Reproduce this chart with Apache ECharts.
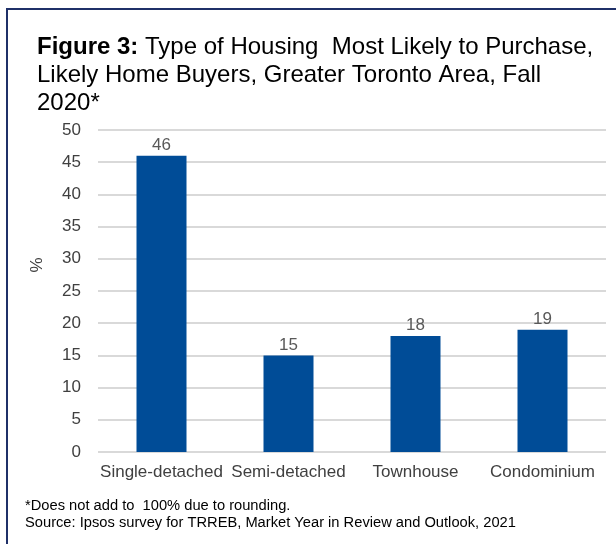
<!DOCTYPE html>
<html>
<head>
<meta charset="utf-8">
<script src="https://cdn.jsdelivr.net/npm/echarts@6/dist/echarts.min.js"></script>
<style>
html,body{margin:0;padding:0;background:#fff;}
#c{width:616px;height:544px;}
</style>
</head>
<body>
<div id="c"></div>
<script>
const categories = ['Single-detached', 'Semi-detached', 'Townhouse', 'Condominium'];
const values = [46, 15, 18, 19];
const yTicks = { min: 0, max: 50, interval: 5 };
const titleBold = 'Figure 3:';
const titleRest = ' Type of Housing  Most Likely to Purchase,\nLikely Home Buyers, Greater Toronto Area, Fall\n2020*';
const footnotes = ['*Does not add to  100% due to rounding.', 'Source: Ipsos survey for TRREB, Market Year in Review and Outlook, 2021'];
const yName = '%';

const FONT = "'Liberation Sans', Arial, sans-serif";
const chart = echarts.init(document.getElementById('c'), null, { renderer: 'canvas' });
const restLines = titleRest.split('\n');
chart.setOption({
  animation: false,
  backgroundColor: '#fff',
  textStyle: { fontFamily: FONT },
  title: {
    left: 37, top: 33, padding: 0,
    text: '{b|' + titleBold + '}{n|' + restLines[0] + '}\n{n|' + restLines.slice(1).join('}\n{n|') + '}',
    textStyle: {
      rich: {
        b: { fontFamily: FONT, fontSize: 24, fontWeight: 'bold', color: '#000', lineHeight: 28 },
        n: { fontFamily: FONT, fontSize: 24, fontWeight: 'normal', color: '#000', lineHeight: 28 }
      }
    }
  },
  grid: { left: 98, right: 10, top: 130, bottom: 92 },
  xAxis: {
    type: 'category',
    data: categories,
    axisLine: { show: false },
    axisTick: { show: false },
    axisLabel: { color: '#404040', fontSize: 17, fontFamily: FONT, margin: 12, interval: 0 }
  },
  yAxis: {
    type: 'value',
    min: yTicks.min, max: yTicks.max, interval: yTicks.interval,
    axisLine: { show: false },
    axisTick: { show: false },
    axisLabel: { color: '#404040', fontSize: 17, fontFamily: FONT, margin: 17 },
    splitLine: { lineStyle: { color: '#d9d9d9', width: 2 } }
  },
  series: [{
    type: 'bar',
    data: values,
    barWidth: 50,
    itemStyle: { color: '#004C97' },
    label: { show: true, position: 'top', distance: 2, color: '#595959', fontSize: 17, fontFamily: FONT }
  }],
  graphic: [
    { type: 'polyline', shape: { points: [[7, 544], [7, 9], [616, 9]] }, style: { stroke: '#1F3068', lineWidth: 2, fill: null } },
    { type: 'text', x: 37, y: 265, rotation: Math.PI / 2, style: { text: yName, font: '17px ' + FONT, fill: '#404040', align: 'center', verticalAlign: 'middle' } },
    { type: 'text', left: 25, top: 498, style: { text: footnotes[0], font: '14.7px ' + FONT, fill: '#000' } },
    { type: 'text', left: 25, top: 515, style: { text: footnotes[1], font: '14.7px ' + FONT, fill: '#000' } }
  ]
});
</script>
</body>
</html>
